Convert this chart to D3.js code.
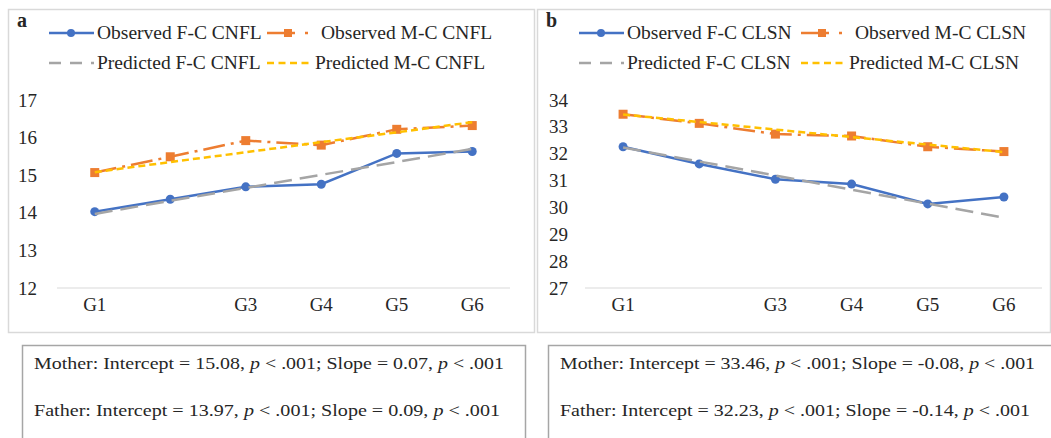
<!DOCTYPE html>
<html>
<head>
<meta charset="utf-8">
<script src="https://cdn.jsdelivr.net/npm/d3@7"></script>
<style>
  body { margin: 0; background: #fff; }
  svg text { font-family: "Liberation Serif", "DejaVu Serif", "Times New Roman", serif; fill: #262626; }
</style>
</head>
<body>
<div id="svg-container"></div>
<script>
const grades = ['G1', 'G2', 'G3', 'G4', 'G5', 'G6'];
const gradeLabels = ['G1', '', 'G3', 'G4', 'G5', 'G6'];

const cnflTicks = [12, 13, 14, 15, 16, 17];
const cnflObsFather = [14.03, 14.36, 14.69, 14.76, 15.58, 15.63];
const cnflObsMother = [15.07, 15.49, 15.92, 15.80, 16.22, 16.32];
const cnflPredFather = [13.97, 14.32, 14.66, 15.01, 15.35, 15.70];
const cnflPredMother = [15.08, 15.35, 15.61, 15.88, 16.14, 16.41];

const clsnTicks = [27, 28, 29, 30, 31, 32, 33, 34];
const clsnObsFather = [32.26, 31.62, 31.05, 30.87, 30.13, 30.39];
const clsnObsMother = [33.47, 33.13, 32.73, 32.66, 32.26, 32.08];
const clsnPredFather = [32.23, 31.71, 31.19, 30.66, 30.14, 29.62];
const clsnPredMother = [33.46, 33.18, 32.90, 32.62, 32.34, 32.06];

const cnflNotes = [
  ['Mother: Intercept = 15.08, ', 'p', ' < .001; Slope = 0.07, ', 'p', ' < .001'],
  ['Father: Intercept = 13.97, ', 'p', ' < .001; Slope = 0.09, ', 'p', ' < .001']
];
const clsnNotes = [
  ['Mother: Intercept = 33.46, ', 'p', ' < .001; Slope = -0.08, ', 'p', ' < .001'],
  ['Father: Intercept = 32.23, ', 'p', ' < .001; Slope = -0.14, ', 'p', ' < .001']
];

const w = 1051;
const h = 438;
const serif = '"Liberation Serif", "DejaVu Serif", serif';

const svg = d3.select('#svg-container')
  .append('svg')
  .attr('width', w)
  .attr('height', h);

// series styles
const styles = [
  { key: 'obsF', color: '#4472C4', dash: null, marker: 'circle' },
  { key: 'obsM', color: '#ED7D31', dash: '22,6,3,6', marker: 'square' },
  { key: 'predF', color: '#A5A5A5', dash: '18,8', marker: null },
  { key: 'predM', color: '#FFC000', dash: '7,4', marker: null }
];

function drawPanel(cfg) {
  const g = svg.append('g');

  g.append('rect')
    .attr('x', cfg.box[0] + 0.5)
    .attr('y', cfg.box[1] + 0.5)
    .attr('width', cfg.box[2])
    .attr('height', cfg.box[3])
    .attr('fill', 'white')
    .attr('stroke', '#d9d9d9')
    .attr('stroke-width', 1.5);

  g.append('text')
    .attr('x', cfg.box[0] + 9)
    .attr('y', 27)
    .attr('font-size', 20)
    .attr('font-weight', 'bold')
    .text(cfg.letter);

  const xScale = d3.scaleBand()
    .domain(grades)
    .range(cfg.xRange);
  const yScale = d3.scaleLinear()
    .domain(cfg.yDomain)
    .range([288, 100]);

  // baseline
  g.append('line')
    .attr('x1', cfg.xRange[0])
    .attr('x2', cfg.xRange[1])
    .attr('y1', yScale(cfg.yDomain[0]))
    .attr('y2', yScale(cfg.yDomain[0]))
    .attr('stroke', '#d9d9d9')
    .attr('stroke-width', 1);

  const yAxis = d3.axisLeft(yScale)
    .tickValues(cfg.ticks)
    .tickSize(0)
    .tickPadding(0)
    .tickFormat(d3.format('d'));
  g.append('g')
    .attr('transform', 'translate(' + cfg.yLabelX + ', 0)')
    .call(yAxis)
    .attr('font-family', serif)
    .attr('font-size', 19)
    .call(a => a.select('.domain').remove())
    .selectAll('text')
    .attr('fill', '#262626');

  const xAxis = d3.axisBottom(xScale)
    .tickSize(0)
    .tickPadding(0)
    .tickFormat((d, i) => gradeLabels[i]);
  g.append('g')
    .attr('transform', 'translate(0, 297)')
    .call(xAxis)
    .attr('font-family', serif)
    .attr('font-size', 19)
    .call(a => a.select('.domain').remove())
    .selectAll('text')
    .attr('fill', '#262626');

  const line = d3.line()
    .x((d, i) => xScale(grades[i]) + xScale.bandwidth() / 2)
    .y(d => yScale(d));

  styles.forEach((s, k) => {
    const values = cfg.series[k];
    g.append('path')
      .datum(values)
      .attr('d', line)
      .attr('fill', 'none')
      .attr('stroke', s.color)
      .attr('stroke-width', 2.5)
      .attr('stroke-dasharray', s.dash);

    if (s.marker === 'circle') {
      g.selectAll('.dot-' + k)
        .data(values)
        .enter()
        .append('circle')
        .attr('cx', (d, i) => xScale(grades[i]) + xScale.bandwidth() / 2)
        .attr('cy', d => yScale(d))
        .attr('r', 4.5)
        .attr('fill', s.color);
    } else if (s.marker === 'square') {
      g.selectAll('.sq-' + k)
        .data(values)
        .enter()
        .append('rect')
        .attr('x', (d, i) => xScale(grades[i]) + xScale.bandwidth() / 2 - 4.5)
        .attr('y', d => yScale(d) - 4.5)
        .attr('width', 9)
        .attr('height', 9)
        .attr('fill', s.color);
    }
  });

  // legend
  const legend = g.append('g')
    .attr('id', 'legend-' + cfg.letter);
  styles.forEach((s, k) => {
    const col = k % 2;
    const row = Math.floor(k / 2);
    const lx = cfg.legendX[col];
    const ly = 33 + row * 30;
    const item = legend.append('g');
    if (s.key === 'obsM') {
      item.append('line')
        .attr('x1', lx).attr('x2', lx + 28)
        .attr('y1', ly).attr('y2', ly)
        .attr('stroke', s.color).attr('stroke-width', 2.5);
      item.append('rect')
        .attr('x', lx + 17).attr('y', ly - 4)
        .attr('width', 8).attr('height', 8)
        .attr('fill', s.color);
      item.append('rect')
        .attr('x', lx + 38).attr('y', ly - 1.25)
        .attr('width', 3).attr('height', 2.5)
        .attr('fill', s.color);
    } else {
      item.append('line')
        .attr('x1', lx).attr('x2', lx + 45)
        .attr('y1', ly).attr('y2', ly)
        .attr('stroke', s.color)
        .attr('stroke-width', 2.5)
        .attr('stroke-dasharray', s.key === 'predF' ? '12,9' : (s.key === 'predM' ? '7,4.5' : null));
      if (s.marker === 'circle') {
        item.append('circle')
          .attr('cx', lx + 22).attr('cy', ly)
          .attr('r', 4).attr('fill', s.color);
      }
    }
    item.append('text')
      .attr('x', lx + (s.key === 'obsM' ? 54 : 48))
      .attr('y', ly + 6)
      .attr('font-size', 19.5)
      .text(cfg.names[k]);
  });

  // notes box
  g.append('rect')
    .attr('x', cfg.note[0] + 0.5)
    .attr('y', 345.5)
    .attr('width', cfg.note[1])
    .attr('height', 110)
    .attr('fill', 'white')
    .attr('stroke', '#a6a6a6')
    .attr('stroke-width', 1.5);

  cfg.notes.forEach((parts, r) => {
    const t = g.append('text')
      .attr('x', cfg.note[0] + 12)
      .attr('y', 369 + r * 47)
      .attr('font-size', 17)
      .attr('textLength', cfg.noteLen[r])
      .attr('lengthAdjust', 'spacingAndGlyphs');
    parts.forEach((p, j) => {
      t.append('tspan')
        .attr('font-style', p === 'p' ? 'italic' : 'normal')
        .text(p);
    });
  });
}

drawPanel({
  letter: 'a',
  box: [8, 9, 526, 323],
  xRange: [57, 510],
  yDomain: [12, 17],
  ticks: cnflTicks,
  yLabelX: 37,
  legendX: [49, 267],
  names: ['Observed F-C CNFL', 'Observed M-C CNFL', 'Predicted F-C CNFL', 'Predicted M-C CNFL'],
  series: [cnflObsFather, cnflObsMother, cnflPredFather, cnflPredMother],
  note: [22, 503],
  noteLen: [470, 466],
  notes: cnflNotes
});

drawPanel({
  letter: 'b',
  box: [537, 9, 513, 323],
  xRange: [585, 1042],
  yDomain: [27, 34],
  ticks: clsnTicks,
  yLabelX: 568,
  legendX: [579, 801],
  names: ['Observed F-C CLSN', 'Observed M-C CLSN', 'Predicted F-C CLSN', 'Predicted M-C CLSN'],
  series: [clsnObsFather, clsnObsMother, clsnPredFather, clsnPredMother],
  note: [548, 520],
  noteLen: [475, 470],
  notes: clsnNotes
});
</script>
</body>
</html>
